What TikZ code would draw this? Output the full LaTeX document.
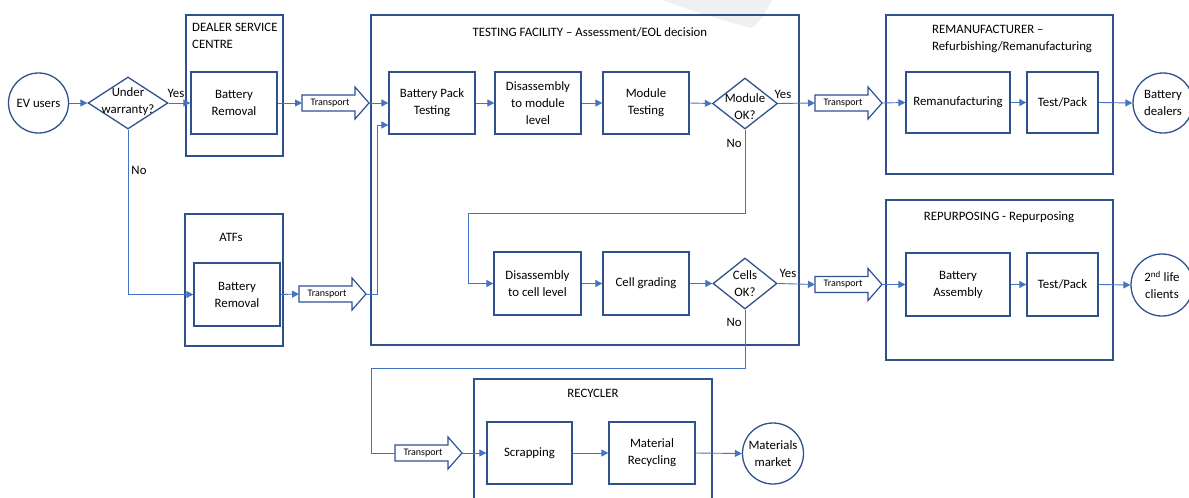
\documentclass[tikz,border=0pt]{standalone}
\usepackage{fontspec}
\setmainfont{Carlito}
\usetikzlibrary{arrows.meta,shapes.geometric,calc}
\definecolor{boxblue}{HTML}{2F528F}
\definecolor{lineblue}{HTML}{4472C4}
\newcommand\boxfont{\fontsize{12.8}{17}\selectfont}
\newcommand\tfont{\fontsize{10}{12}\selectfont}
\tikzset{
  proc/.style={draw=boxblue, line width=1.3pt, align=center, inner sep=0pt, font=\boxfont, fill=white},
  grp/.style={draw=boxblue, line width=1.3pt, inner sep=0pt},
  endpt/.style={circle, draw=boxblue, line width=1.3pt, align=center, inner sep=0pt, font=\boxfont},
  decide/.style={diamond, draw=boxblue, line width=1.3pt, inner sep=0pt},
  lbl/.style={font=\boxfont, inner sep=0pt, align=center},
  conn/.style={draw=lineblue, line width=0.9pt, -{Triangle[length=7pt,width=7pt]}},
  plain/.style={draw=lineblue, line width=0.9pt},
  transport/.pic={
    \draw[boxblue, line width=1.2pt, fill=white] (0,-8) -- (53,-8) -- (53,-16) -- (67,0) -- (53,16) -- (53,8) -- (0,8) -- cycle;
    \coordinate (-in) at (0,0);
    \coordinate (-out) at (67,0);
    \node[font=\tfont, inner sep=0pt] (-txt) at (28,0) {Transport};
  }
}
\begin{document}
\begin{tikzpicture}[x=1pt,y=-1pt]
\useasboundingbox (0,0) rectangle (1189,498);
% faint watermark shape
\fill[gray!12] (662,0) .. controls (700,14) and (735,24) .. (752,28) .. controls (760,22) and (766,12) .. (772,0) -- cycle;

% group containers
\node[grp, minimum width=97pt, minimum height=141pt] (dealer) at (234.5,85.5) {};
\node[lbl, anchor=north west, align=left] (dealert) at (192,23) {DEALER SERVICE\\CENTRE};
\node[grp, minimum width=98pt, minimum height=132pt] (atf) at (234,280) {};
\node[lbl] (atft) at (231,237) {ATFs};
\node[grp, minimum width=428pt, minimum height=330pt] (tf) at (585,180) {};
\node[lbl] (tft) at (590,32) {TESTING FACILITY -- Assessment/EOL decision};
\node[grp, minimum width=227pt, minimum height=159pt] (remg) at (999.5,94.5) {};
\node[lbl, anchor=north west, align=left] (remt) at (932,25) {REMANUFACTURER --\\Refurbishing/Remanufacturing};
\node[grp, minimum width=227pt, minimum height=160pt] (repg) at (999.5,280) {};
\node[lbl] (rept) at (999,217) {REPURPOSING - Repurposing};
\draw[boxblue, line width=1.3pt] (474,499) -- (474,379) -- (712,379) -- (712,499);
\node[lbl] (recyt) at (593,393) {RECYCLER};

% end points
\node[endpt, minimum size=60pt] (ev) at (38.5,103) {EV users};
\node[endpt, minimum size=60pt] (bd) at (1163,103) {Battery\\dealers};
\node[endpt, minimum size=62pt] (slc) at (1162,285) {2\textsuperscript{nd} life\\clients};
\node[endpt, minimum size=61pt] (mm) at (773,453.5) {Materials\\market};

% decisions
\node[decide, minimum width=80pt, minimum height=52pt] (uw) at (128,103) {};
\node[lbl] (uwt) at (128,102) {Under\\warranty?};
\node[decide, minimum width=65pt, minimum height=51pt] (mok) at (745,103.5) {};
\node[lbl] (mokt) at (745,107) {Module\\OK?};
\node[decide, minimum width=64pt, minimum height=51pt] (cok) at (745,283.5) {};
\node[lbl] (cokt) at (745,284) {Cells\\OK?};

% process boxes
\node[proc, minimum width=86pt, minimum height=62pt] (drb) at (234,103) {Battery\\Removal};
\node[proc, minimum width=86pt, minimum height=63pt] (atfb) at (237,294.5) {Battery\\Removal};
\node[proc, minimum width=86pt, minimum height=62pt] (bpt) at (432,103) {Battery Pack\\Testing};
\node[proc, minimum width=86pt, minimum height=62pt] (dml) at (538,103) {Disassembly\\to module\\level};
\node[proc, minimum width=86pt, minimum height=62pt] (mt) at (646,103) {Module\\Testing};
\node[proc, minimum width=87pt, minimum height=63pt] (dcl) at (537.5,283.5) {Disassembly\\to cell level};
\node[proc, minimum width=86pt, minimum height=63pt] (cg) at (646,283.5) {Cell grading};
\node[proc, minimum width=104pt, minimum height=61pt] (reman) at (958,102.5) {Remanufacturing};
\node[proc, minimum width=71pt, minimum height=61pt] (tp1) at (1062.5,102.5) {Test/Pack};
\node[proc, minimum width=104pt, minimum height=63pt] (ba) at (958,284.5) {Battery\\Assembly};
\node[proc, minimum width=71pt, minimum height=63pt] (tp2) at (1062.5,284.5) {Test/Pack};
\node[proc, minimum width=85pt, minimum height=62pt] (scr) at (529.5,453) {Scrapping};
\node[proc, minimum width=86pt, minimum height=62pt] (mr) at (652,453) {Material\\Recycling};

% transport arrows
\pic (t1) at (302,103) {transport};
\pic (t2) at (299,294) {transport};
\pic (t3) at (815,103) {transport};
\pic (t4) at (815,284.5) {transport};
\pic (t5) at (395,453) {transport};

% connectors
\draw[conn] (ev.east) -- (uw.west);
\draw[conn] (uw.east) -- (drb.west);
\node[lbl] (y1) at (176,93) {Yes};
\draw[conn] (uw.south) |- (atfb.west);
\node[lbl] (n1) at (139,170) {No};
\draw[conn] (drb.east) -- (t1-in);
\draw[conn] (t1-out) -- (bpt.west);
\draw[conn] (atfb.east) -- (t2-in);
\draw[conn] (t2-out) -- ++(11,0) |- ($(bpt.west)+(0,22)$);
\draw[conn] (bpt.east) -- (dml.west);
\draw[conn] (dml.east) -- (mt.west);
\draw[conn] (mt.east) -- (mok.west);
\draw[conn] (mok.east) -- (t3-in);
\node[lbl] (y2) at (783,94) {Yes};
\draw[conn] (t3-out) -- (reman.west);
\draw[conn] (reman.east) -- (tp1.west);
\draw[conn] (tp1.east) -- (bd.west);
\draw[conn] (mok.south) |- (468,213) |- (dcl.west);
\node[lbl] (n2) at (734,143) {No};
\draw[conn] (dcl.east) -- (cg.west);
\draw[conn] (cg.east) -- (cok.west);
\draw[conn] (cok.east) -- (t4-in);
\node[lbl] (y3) at (788,273) {Yes};
\draw[conn] (t4-out) -- (ba.west);
\draw[conn] (ba.east) -- (tp2.west);
\draw[conn] (tp2.east) -- (slc.west);
\draw[plain] (cok.south) |- (371,368) |- (t5-in);
\node[lbl] (n3) at (734,322) {No};
\draw[conn] (t5-out) -- (scr.west);
\draw[conn] (scr.east) -- (mr.west);
\draw[conn] (mr.east) -- (mm.west);
\end{tikzpicture}
\end{document}
